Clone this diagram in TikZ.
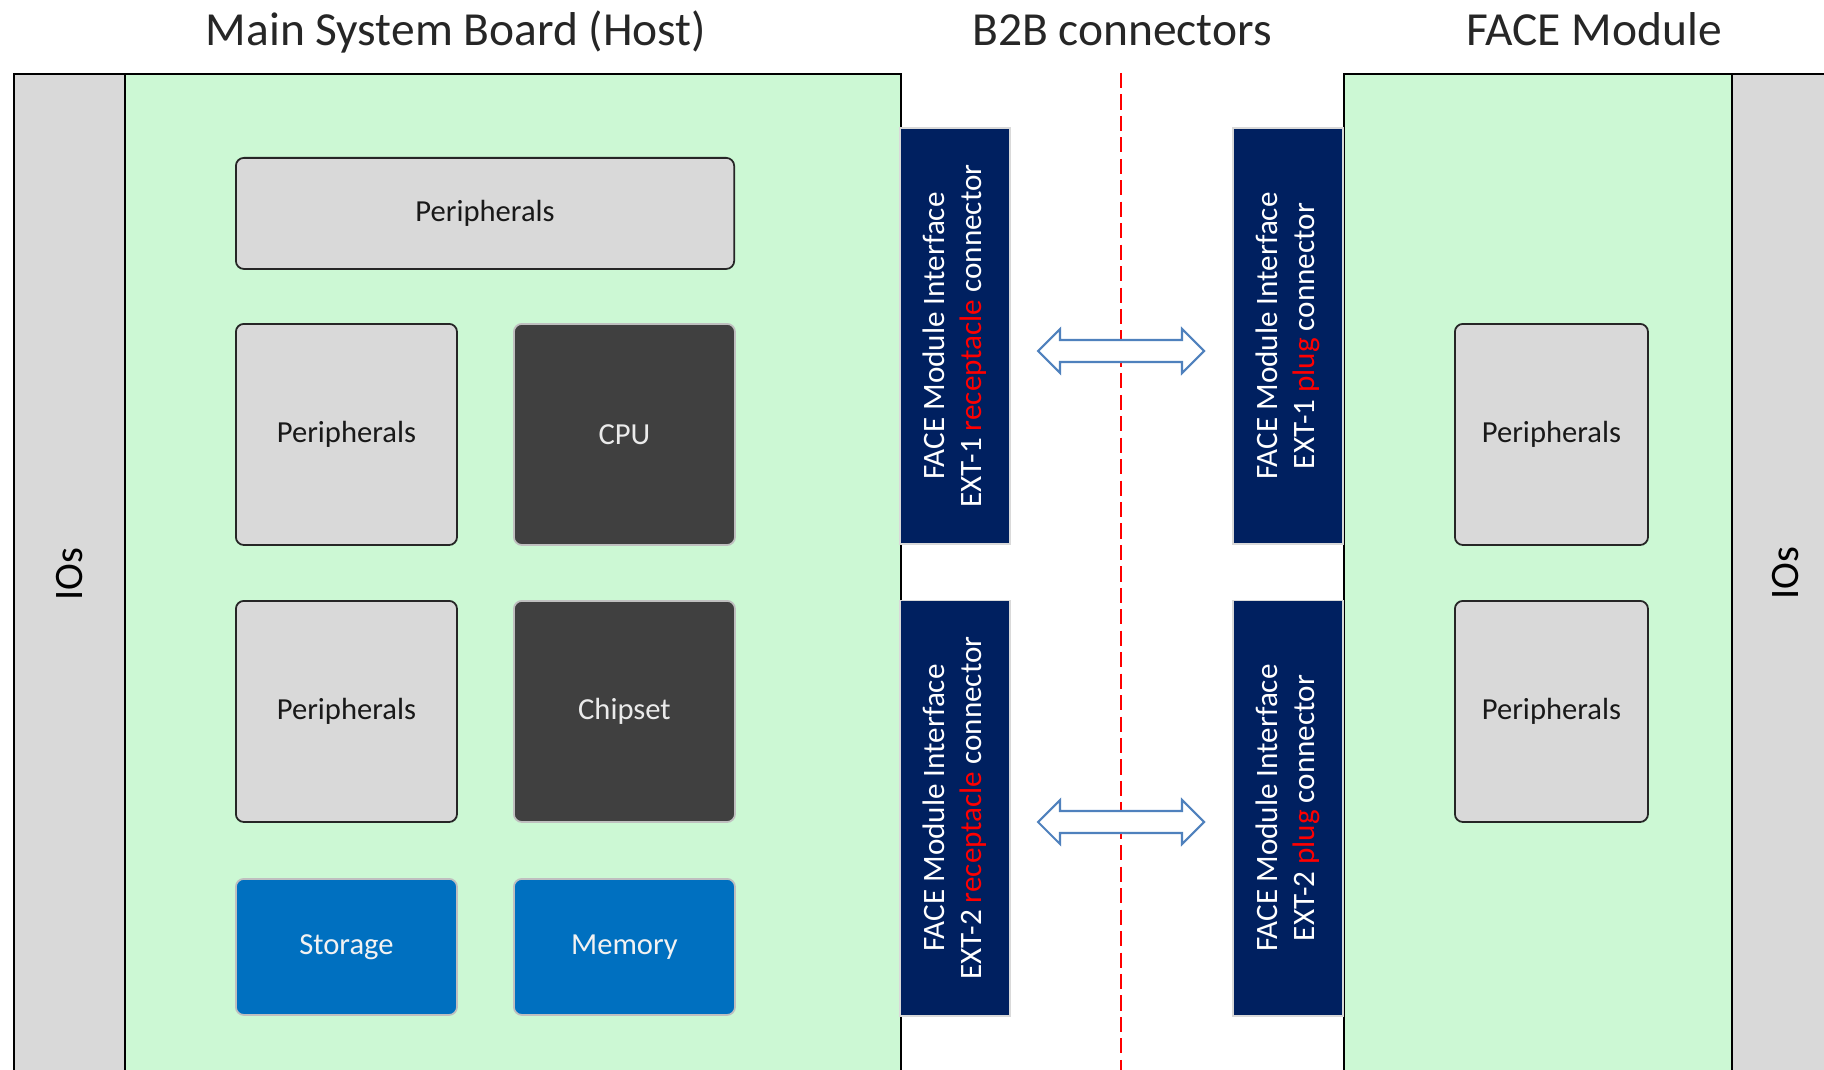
\documentclass[tikz,border=0pt]{standalone}
\usepackage{fontspec}
\setmainfont{Carlito}
\usepackage{tikz}

\definecolor{boardgreen}{HTML}{CCF8D4}
\definecolor{iogray}{HTML}{D9D9D9}
\definecolor{chipgray}{HTML}{404040}
\definecolor{memblue}{HTML}{0070C0}
\definecolor{b2bnavy}{HTML}{002060}
\definecolor{arrowblue}{HTML}{4F81BD}

\begin{document}
\begin{tikzpicture}[x=0.01cm, y=-0.01cm, line width=0.5pt,
    title/.style = {anchor=base, text=black!85, font=\fontsize{13.5}{16}\selectfont},
    iobox/.style = {draw, fill=iogray, anchor=north west, minimum width=1.11cm, minimum height=10cm, inner sep=0pt},
    board/.style = {draw, fill=boardgreen, anchor=north west, minimum height=10cm, inner sep=0pt},
    iotext/.style = {rotate=90, font=\fontsize{11.5}{14}\selectfont},
    blk/.style = {rounded corners=0.08cm, anchor=north west, inner sep=0pt, minimum width=2.21cm, minimum height=2.21cm, font=\fontsize{8.7}{10.5}\selectfont},
    gbox/.style = {blk, draw=black!85, fill=iogray, text=black!90},
    dbox/.style = {blk, draw=black!25, fill=chipgray, text=white!92!black},
    bbox/.style = {blk, draw=black!25, fill=memblue, text=white!95!black, minimum height=1.36cm},
    b2b/.style = {draw=black!15, fill=b2bnavy, text=white, rotate=90, align=center, inner sep=0pt, minimum width=4.15cm, minimum height=1.10cm, font=\fontsize{8.85}{10.5}\selectfont},
    dblarrow/.style = {draw=arrowblue, fill=white, line width=0.6pt, line join=miter}]

    \clip (0,0) rectangle (1824,1070);

    % titles
    \node [title] (t1) at (456,46) {Main System Board (Host)};
    \node [title] (t2) at (1122,46) {B2B connectors};
    \node [title] (t3) at (1594,46) {FACE Module};

    % host side
    \node [iobox] (io1) at (13,73) {};
    \node [iotext] at (io1.center) {IOs};
    \node [board, minimum width=7.76cm] (host) at (124,73) {};

    \node [gbox, minimum width=4.98cm, minimum height=1.11cm] (p0) at (235,157) {Peripherals};
    \node [gbox] (p1) at (235,323) {Peripherals};
    \node [dbox] (cpu) at (513,323) {CPU};
    \node [gbox] (p2) at (235,600) {Peripherals};
    \node [dbox] (chip) at (513,600) {Chipset};
    \node [bbox] (sto) at (235,878) {Storage};
    \node [bbox] (mem) at (513,878) {Memory};

    % module side
    \node [board, minimum width=3.88cm] (face) at (1343,73) {};
    \node [iobox] (io2) at (1731,73) {};
    \node [iotext] at (1786,573) {IOs};

    \node [gbox, minimum width=1.93cm] (p3) at (1454,323) {Peripherals};
    \node [gbox, minimum width=1.93cm] (p4) at (1454,600) {Peripherals};

    % B2B connectors
    \draw [red, line width=0.6pt, dash pattern=on 4.3pt off 1.8pt] (1121,73) -- (1121,1075);

    \node [b2b] (r1) at (955,336) {FACE Module Interface\\EXT-1 \textcolor{red}{receptacle} connector};
    \node [b2b] (r2) at (955,808) {FACE Module Interface\\EXT-2 \textcolor{red}{receptacle} connector};
    \node [b2b] (s1) at (1288,336) {FACE Module Interface\\EXT-1 \textcolor{red}{plug} connector};
    \node [b2b] (s2) at (1288,808) {FACE Module Interface\\EXT-2 \textcolor{red}{plug} connector};

    \foreach \y in {351, 822}
        \draw [dblarrow, shift={(1121,\y)}] (-83,0) -- (-61,-22) -- (-61,-11) -- (61,-11) -- (61,-22)
            -- (83,0) -- (61,22) -- (61,11) -- (-61,11) -- (-61,22) -- cycle;

\end{tikzpicture}
\end{document}
